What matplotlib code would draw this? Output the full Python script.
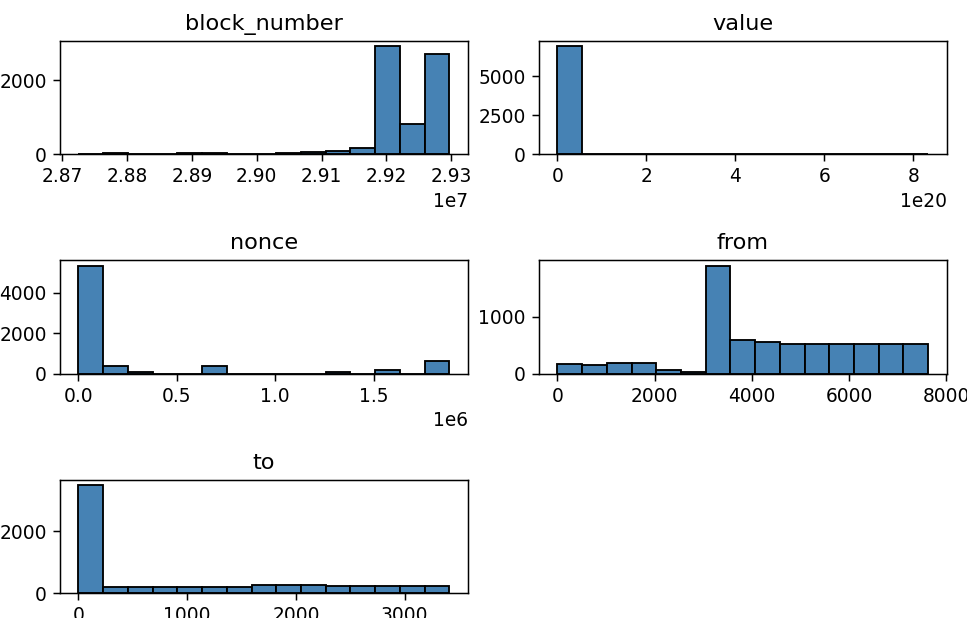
import matplotlib
matplotlib.use("Agg")
import matplotlib.pyplot as plt
import numpy as np

# histogram data: (min, max) of each column and counts in 15 bins
columns = ["block_number", "value", "nonce", "from", "to"]

block_range = (2.8725e7, 2.9297e7)
block_counts = [5, 30, 0, 0, 25, 25, 0, 0, 40, 45, 90, 155, 2927, 818, 2727]

value_range = (0.0, 8.33e20)
value_counts = [6935, 0, 0, 0, 0, 0, 0, 0, 0, 0, 0, 0, 0, 0, 1]

nonce_range = (0.0, 1.884e6)
nonce_counts = [5322, 364, 80, 0, 0, 364, 0, 0, 0, 0, 70, 0, 165, 0, 628]

from_range = (0.0, 7625.0)
from_counts = [165, 153, 188, 188, 59, 30, 1900, 600, 559, 518, 518, 518, 518, 518, 529]

to_range = (0.0, 3410.0)
to_counts = [3477, 216, 216, 216, 216, 216, 216, 281, 281, 281, 238, 238, 238, 238, 238]

data = [
    (block_range, block_counts),
    (value_range, value_counts),
    (nonce_range, nonce_counts),
    (from_range, from_counts),
    (to_range, to_counts),
]

DPI = 134
fig, axes = plt.subplots(3, 2, figsize=(967 / DPI, 618 / DPI), dpi=DPI)
fig.subplots_adjust(left=0.062, right=0.979, top=0.934, bottom=0.040,
                    wspace=0.174, hspace=0.94)

for ax, name, (rng, counts) in zip(axes.flat, columns, data):
    edges = np.linspace(rng[0], rng[1], len(counts) + 1)
    ax.bar(edges[:-1], counts, width=np.diff(edges), align="edge",
           color="steelblue", edgecolor="black", linewidth=1.0)
    ax.set_title(name, fontsize=12)
    ax.grid(False)

axes[2, 1].set_visible(False)

fig.savefig("out.png", dpi=DPI)
